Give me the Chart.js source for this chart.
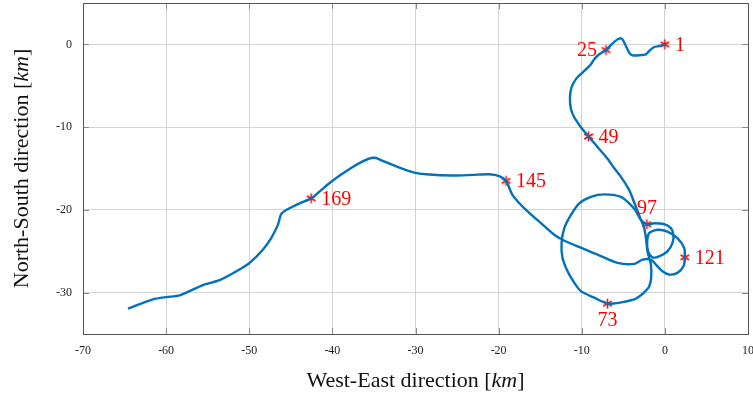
<!DOCTYPE html>
<html>
<head>
<meta charset="utf-8">
<script src="https://cdn.jsdelivr.net/npm/chart.js@4.4.1/dist/chart.umd.min.js"></script>
<style>
  html, body { margin: 0; padding: 0; background: #ffffff; }
  canvas { display: block; }
</style>
</head>
<body>
<canvas id="c" width="753" height="397"></canvas>
<script>
// ---- data (km) ----
const pathX = [0, -0.69, -1.29, -1.89, -2.28, -3.09, -3.89, -4.29, -4.69, -5.10, -5.41, -6.09, -7.09, -7.90, -8.50, -8.89, -9.90, -10.70, -11.23, -11.42, -11.30, -10.90, -10.10, -9.18, -8.10, -6.90, -6.09, -5.29, -4.29, -3.49, -2.97, -2.49, -2.28, -2.09, -1.68, -1.65, -1.89, -2.49, -3.09, -3.69, -5.25, -6.90, -8.50, -10.10, -10.90, -11.71, -12.31, -12.43, -12.10, -11.30, -10.30, -8.89, -7.30, -5.29, -4.29, -3.49, -2.97, -2.16, -1.29, -0.08, 0.72, 1.03, 0.91, 0.31, -0.69, -1.49, -2.01, -2.13, -1.89, -0.89, 0.31, 1.51, 2.32, 2.40, 2.24, 1.51, 0.52, -0.29, -1.08, -1.68, -2.69, -3.69, -5.70, -8.10, -10.50, -12.31, -13.31, -15.11, -16.71, -18.32, -19.11, -19.92, -21.12, -23.13, -25.53, -28.73, -30.13, -31.94, -33.94, -34.74, -35.34, -36.35, -37.55, -38.94, -40.14, -41.35, -42.55, -43.95, -45.55, -46.15, -46.56, -47.36, -48.37, -49.96, -51.17, -53.57, -55.58, -58.38, -59.98, -61.59, -64.59];
const pathY = [0, -0.20, -0.32, -0.80, -1.20, -1.32, -1.32, -1.01, -0.20, 0.60, 0.72, 0.31, -0.68, -1.20, -1.80, -2.40, -3.41, -4.20, -5.21, -6.41, -7.80, -8.81, -10.01, -11.13, -12.41, -13.81, -14.97, -16.01, -17.61, -19.62, -20.97, -22.17, -23.37, -25.02, -26.61, -28.18, -29.26, -29.98, -30.46, -30.82, -31.18, -31.33, -30.61, -29.82, -28.81, -27.42, -25.81, -24.01, -22.21, -20.61, -19.21, -18.42, -18.13, -18.42, -19.21, -20.13, -21.09, -21.73, -21.61, -21.73, -22.21, -23.01, -24.01, -25.02, -25.62, -25.74, -25.05, -23.85, -22.81, -22.41, -22.62, -23.41, -24.61, -25.74, -26.82, -27.61, -27.82, -27.42, -26.61, -26.01, -26.01, -26.53, -26.41, -25.41, -24.42, -23.61, -23.01, -21.42, -20.01, -18.21, -16.49, -15.93, -15.69, -15.77, -15.85, -15.69, -15.49, -14.89, -14.09, -13.73, -13.73, -14.13, -14.81, -15.73, -16.61, -17.61, -18.61, -19.21, -20.01, -20.49, -21.81, -23.41, -24.81, -26.41, -27.21, -28.50, -29.10, -30.34, -30.54, -30.82, -31.93];

const markerX = [0, -7.09, -9.18, -6.90, -2.16, 2.40, -19.11, -42.55];
const markerY = [0, -0.68, -11.13, -31.33, -21.73, -25.74, -16.49, -18.61];
const markerLabels = ['1', '25', '49', '73', '97', '121', '145', '169'];
const markerLabelSide = ['r', 'l', 'r', 'b', 'a', 'r', 'r', 'r'];

const xTicks = [-70, -60, -50, -40, -30, -20, -10, 0, 10];
const yTicks = [0, -10, -20, -30];
const xTitle = ['West-East direction [', 'km', ']'];
const yTitle = ['North-South direction [', 'km', ']'];

// ---- styles ----
const BLUE = '#0072BD';
const RED = '#ff0000';
const SERIF = "'Liberation Serif', 'DejaVu Serif', serif";

// asterisk marker (6 arms)
function makeAsterisk(r, color) {
  const s = Math.ceil(r * 2 + 3);
  const c = document.createElement('canvas');
  c.width = s; c.height = s;
  const g = c.getContext('2d');
  g.strokeStyle = color; g.lineWidth = 1.5; g.lineCap = 'butt';
  const cx = s / 2, cy = s / 2;
  for (const a of [90, 30, 150]) {
    const t = a * Math.PI / 180;
    g.beginPath();
    g.moveTo(cx - r * Math.cos(t), cy - r * Math.sin(t));
    g.lineTo(cx + r * Math.cos(t), cy + r * Math.sin(t));
    g.stroke();
  }
  return c;
}
const asterisk = makeAsterisk(5, RED);

function drawMixed(ctx, parts, cx, cy, size) {
  const fonts = parts.map((p, i) => (i === 1 ? 'italic ' : '') + size + 'px ' + SERIF);
  let total = 0; const widths = [];
  parts.forEach((p, i) => { ctx.font = fonts[i]; const w = ctx.measureText(p).width; widths.push(w); total += w; });
  let x = cx - total / 2;
  ctx.textBaseline = 'middle'; ctx.textAlign = 'left';
  parts.forEach((p, i) => { ctx.font = fonts[i]; ctx.fillText(p, x, cy); x += widths[i]; });
}

function plotBox(chart) {
  const xs = chart.scales.x, ys = chart.scales.y;
  return {
    left: Math.round(xs.getPixelForValue(xs.min)),
    right: Math.round(xs.getPixelForValue(xs.max)),
    top: Math.round(ys.getPixelForValue(ys.max)),
    bottom: Math.round(ys.getPixelForValue(ys.min))
  };
}

const decor = {
  id: 'decor',
  afterDatasetsDraw(chart) {
    const ctx = chart.ctx, a = plotBox(chart);
    const xs = chart.scales.x, ys = chart.scales.y;
    ctx.save();
    // inward tick marks on all four sides
    ctx.strokeStyle = '#8a8a8a'; ctx.lineWidth = 1;
    const TL = 6;
    xTicks.forEach(v => {
      const px = Math.round(xs.getPixelForValue(v)) + 0.5;
      ctx.beginPath(); ctx.moveTo(px, a.bottom); ctx.lineTo(px, a.bottom - TL); ctx.stroke();
      ctx.beginPath(); ctx.moveTo(px, a.top); ctx.lineTo(px, a.top + TL); ctx.stroke();
    });
    yTicks.forEach(v => {
      const py = Math.round(ys.getPixelForValue(v)) + 0.5;
      ctx.beginPath(); ctx.moveTo(a.left, py); ctx.lineTo(a.left + TL, py); ctx.stroke();
      ctx.beginPath(); ctx.moveTo(a.right, py); ctx.lineTo(a.right - TL, py); ctx.stroke();
    });
    // frame
    ctx.strokeStyle = '#555555'; ctx.lineWidth = 1;
    ctx.strokeRect(a.left + 0.5, a.top + 0.5, a.right - a.left, a.bottom - a.top);
    // marker labels
    ctx.fillStyle = RED;
    ctx.font = '20px ' + SERIF;
    ctx.textBaseline = 'middle';
    markerLabels.forEach((t, i) => {
      const px = xs.getPixelForValue(markerX[i]);
      const py = ys.getPixelForValue(markerY[i]);
      const side = markerLabelSide[i];
      if (side === 'r') { ctx.textAlign = 'left'; ctx.fillText(t, px + 10, py + 1); }
      else if (side === 'l') { ctx.textAlign = 'right'; ctx.fillText(t, px - 9, py + 1); }
      else if (side === 'b') { ctx.textAlign = 'center'; ctx.fillText(t, px, py + 17); }
      else { ctx.textAlign = 'center'; ctx.fillText(t, px, py - 15); }
    });
    ctx.restore();
  },
  afterDraw(chart) {
    const ctx = chart.ctx, a = plotBox(chart);
    ctx.save();
    ctx.fillStyle = '#111111';
    drawMixed(ctx, xTitle, (a.left + a.right) / 2, 381, 22);
    ctx.translate(22, (a.top + a.bottom) / 2);
    ctx.rotate(-Math.PI / 2);
    drawMixed(ctx, yTitle, 0, 0, 22);
    ctx.restore();
  }
};

new Chart(document.getElementById('c'), {
  type: 'scatter',
  data: {
    datasets: [
      {
        data: pathX.map((x, i) => ({ x: x, y: pathY[i] })),
        showLine: true,
        borderColor: BLUE,
        borderWidth: 2.4,
        pointRadius: 0,
        tension: 0.25,
        fill: false
      },
      {
        data: markerX.map((x, i) => ({ x: x, y: markerY[i] })),
        showLine: false,
        pointStyle: asterisk,
        pointRadius: 5
      }
    ]
  },
  options: {
    responsive: false,
    animation: false,
    devicePixelRatio: 1,
    layout: { autoPadding: false, padding: { top: 3, right: 5, left: 0, bottom: 0 } },
    plugins: { legend: { display: false }, tooltip: { enabled: false } },
    scales: {
      x: {
        type: 'linear', min: -70, max: 10,
        afterBuildTicks: s => { s.ticks = xTicks.map(v => ({ value: v })); },
        afterFit: s => { s.height = 63; s.paddingLeft = 0; s.paddingRight = 0; },
        grid: { color: '#d4d4d4', lineWidth: 1, drawTicks: false },
        border: { display: false },
        ticks: { padding: 10, color: '#222', font: { family: SERIF, size: 12 }, maxRotation: 0, autoSkip: false }
      },
      y: {
        type: 'linear', min: -35, max: 5,
        afterBuildTicks: s => { s.ticks = yTicks.map(v => ({ value: v })); },
        afterFit: s => { s.width = 83; s.paddingTop = 0; s.paddingBottom = 0; },
        grid: { color: '#d4d4d4', lineWidth: 1, drawTicks: false },
        border: { display: false },
        ticks: { padding: 11, color: '#222', font: { family: SERIF, size: 12 }, autoSkip: false }
      }
    }
  },
  plugins: [decor]
});
</script>
</body>
</html>
